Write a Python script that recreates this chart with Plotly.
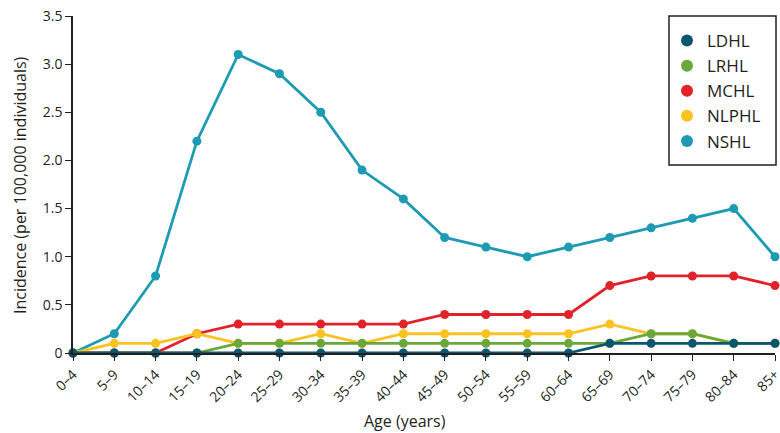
import plotly.graph_objects as go

ages = ["0–4", "5–9", "10–14", "15–19", "20–24", "25–29", "30–34", "35–39", "40–44",
        "45–49", "50–54", "55–59", "60–64", "65–69", "70–74", "75–79", "80–84", "85+"]
ldhl = [0, 0, 0, 0, 0, 0, 0, 0, 0, 0, 0, 0, 0, 0.1, 0.1, 0.1, 0.1, 0.1]
lrhl = [0, 0, 0, 0, 0.1, 0.1, 0.1, 0.1, 0.1, 0.1, 0.1, 0.1, 0.1, 0.1, 0.2, 0.2, 0.1, 0.1]
mchl = [0, 0, 0, 0.2, 0.3, 0.3, 0.3, 0.3, 0.3, 0.4, 0.4, 0.4, 0.4, 0.7, 0.8, 0.8, 0.8, 0.7]
nlphl = [0, 0.1, 0.1, 0.2, 0.1, 0.1, 0.2, 0.1, 0.2, 0.2, 0.2, 0.2, 0.2, 0.3, 0.2, 0.2, 0.1, 0.1]
nshl = [0, 0.2, 0.8, 2.2, 3.1, 2.9, 2.5, 1.9, 1.6, 1.2, 1.1, 1.0, 1.1, 1.2, 1.3, 1.4, 1.5, 1.0]

series = [("LDHL", ldhl, "#0d5670"), ("LRHL", lrhl, "#6ba83c"),
          ("MCHL", mchl, "#e2222b"), ("NLPHL", nlphl, "#fcc221"),
          ("NSHL", nshl, "#1c9bb2")]
draw_order = ["NSHL", "MCHL", "NLPHL", "LRHL", "LDHL"]

y_ticks = [0, 0.5, 1.0, 1.5, 2.0, 2.5, 3.0, 3.5]
y_labels = ["0", "0.5", "1.0", "1.5", "2.0", "2.5", "3.0", "3.5"]

W, H = 780, 433
L, R, T, B = 73, 5, 16, 433 - 353
pw, ph = W - L - R, H - T - B


def px(x):
    return (x - L) / pw


def py(y):
    return (H - B - y) / ph


fig = go.Figure()
lookup = {n: (v, c) for n, v, c in series}
for name in draw_order:
    vals, col = lookup[name]
    fig.add_trace(go.Scatter(x=list(range(len(ages))), y=vals, mode="lines+markers",
                             line=dict(color=col, width=2.8),
                             marker=dict(color=col, size=9),
                             showlegend=False, cliponaxis=False, name=name))
for name, vals, col in series:
    fig.add_trace(go.Scatter(x=[None], y=[None], mode="markers", name=name,
                             marker=dict(color=col, size=9)))

fig.update_layout(
    width=W, height=H,
    margin=dict(l=L, r=R, t=T, b=B),
    plot_bgcolor="white", paper_bgcolor="white",
    font=dict(family="Open Sans", color="#231f20", size=14),
    showlegend=True,
    legend=dict(x=px(667), y=py(23), xanchor="left", yanchor="top",
                borderwidth=0, bgcolor="rgba(0,0,0,0)",
                font=dict(size=17), itemsizing="constant", tracegroupgap=0),
    xaxis=dict(range=[0, 17], tickmode="array", tickvals=list(range(len(ages))),
               ticktext=ages, tickangle=-45, ticks="outside", ticklen=6,
               tickcolor="#231f20", showline=True, linecolor="#231f20", linewidth=1.5,
               showgrid=False, zeroline=False, automargin=False,
               ticklabeloverflow="allow", tickfont=dict(size=14)),
    yaxis=dict(range=[0, 3.5], tickmode="array", tickvals=y_ticks, ticktext=y_labels,
               ticks="outside", ticklen=6, tickcolor="#231f20",
               showline=True, linecolor="#231f20", linewidth=1.5,
               showgrid=False, zeroline=False, automargin=False,
               ticklabeloverflow="allow", tickfont=dict(size=14)),
    shapes=[dict(type="rect", xref="paper", yref="paper",
                 x0=px(669), x1=px(776), y0=py(165), y1=py(16),
                 line=dict(color="#231f20", width=1.5), fillcolor="white",
                 layer="above")],
    annotations=[
        dict(text="Age (years)", x=px(405), y=py(421), xref="paper", yref="paper",
             xanchor="center", yanchor="middle", showarrow=False,
             font=dict(size=16)),
        dict(text="Incidence (per 100,000 individuals)", x=px(20), y=py(185),
             xref="paper", yref="paper", xanchor="center", yanchor="middle",
             showarrow=False, textangle=-90, font=dict(size=16)),
    ],
)

fig.write_html(
    "out.html",
    config={"displayModeBar": False},
    post_script="document.body.style.margin='0';document.body.style.overflow='hidden';"
                "document.documentElement.style.overflow='hidden';",
)
